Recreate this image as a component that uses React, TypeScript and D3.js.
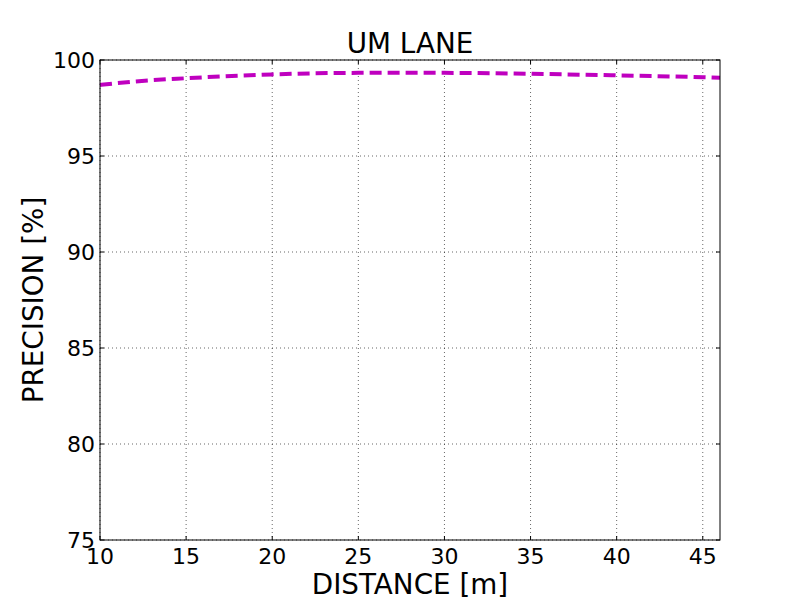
import React from "react";
import * as d3 from "d3";

const distances = [10, 12, 15, 20, 25, 30, 35, 40, 45, 46];
const precision = [98.7, 98.88, 99.05, 99.25, 99.33, 99.33, 99.28, 99.2, 99.1, 99.07];
const xTicks = [10, 15, 20, 25, 30, 35, 40, 45];
const yTicks = [75, 80, 85, 90, 95, 100];

const W = 800, H = 600;
const L = 100, R = 720, T = 60, B = 540;
const FONT = "'DejaVu Sans', sans-serif";

export default function App() {
  const x = d3.scaleLinear().domain([10, 46]).range([L, R]);
  const y = d3.scaleLinear().domain([75, 100]).range([B, T]);
  const line = d3
    .line<number>()
    .x((_, i) => x(distances[i]))
    .y((d) => y(d))
    .curve(d3.curveMonotoneX);
  const tl = 4;
  return (
    <svg width={W} height={H} style={{ position: "absolute", left: 0, top: 0, background: "#fff" }}>
      <rect x={0} y={0} width={W} height={H} fill="#fff" />
      {xTicks.map((t) => (
        <line key={"gx" + t} x1={x(t)} x2={x(t)} y1={T} y2={B} stroke="#000" strokeWidth={0.6} strokeDasharray="1,3" />
      ))}
      {yTicks.map((t) => (
        <line key={"gy" + t} x1={L} x2={R} y1={y(t)} y2={y(t)} stroke="#000" strokeWidth={0.6} strokeDasharray="1,3" />
      ))}
      <path d={line(precision) || ""} fill="none" stroke="#bf00bf" strokeWidth={4} strokeDasharray="12,6" />
      {xTicks.map((t) => (
        <g key={"tx" + t}>
          <line x1={x(t)} x2={x(t)} y1={B} y2={B - tl} stroke="#000" />
          <line x1={x(t)} x2={x(t)} y1={T} y2={T + tl} stroke="#000" />
          <text x={x(t)} y={564} textAnchor="middle" fontFamily={FONT} fontSize={22} fill="#000">{t}</text>
        </g>
      ))}
      {yTicks.map((t) => (
        <g key={"ty" + t}>
          <line x1={L} x2={L + tl} y1={y(t)} y2={y(t)} stroke="#000" />
          <line x1={R} x2={R - tl} y1={y(t)} y2={y(t)} stroke="#000" />
          <text x={95} y={y(t) + 8} textAnchor="end" fontFamily={FONT} fontSize={22} fill="#000">{t}</text>
        </g>
      ))}
      <rect x={L} y={T} width={R - L} height={B - T} fill="none" stroke="#000" strokeWidth={1} />
      <text x={(L + R) / 2} y={53} textAnchor="middle" fontFamily={FONT} fontSize={27.8} fill="#000">UM LANE</text>
      <text x={(L + R) / 2} y={594} textAnchor="middle" fontFamily={FONT} fontSize={27.8} fill="#000">DISTANCE [m]</text>
      <text transform={`translate(43,${(T + B) / 2}) rotate(-90)`} textAnchor="middle" fontFamily={FONT} fontSize={27.8} fill="#000">PRECISION [%]</text>
    </svg>
  );
}
